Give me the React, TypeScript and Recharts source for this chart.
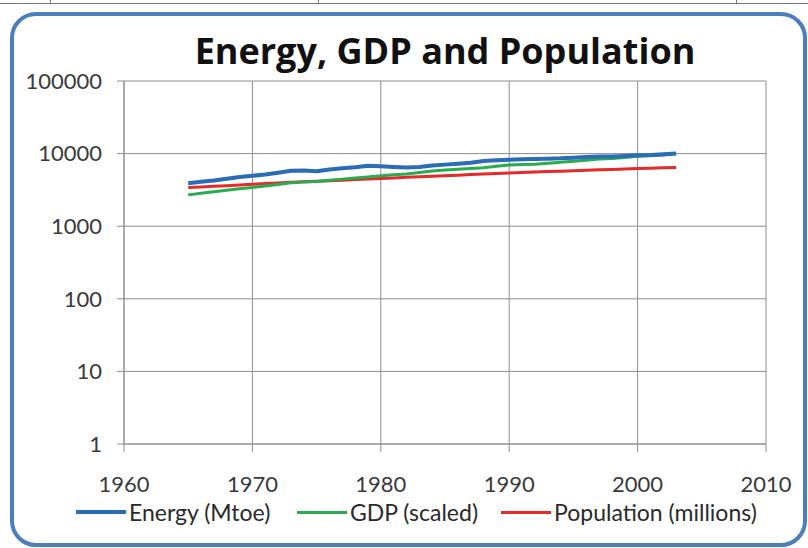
// Energy, GDP and Population chart (log scale)

import { LineChart, Line, XAxis, YAxis, CartesianGrid } from 'recharts';

const years = [
  1965, 1966, 1967, 1968, 1969, 1970, 1971, 1972, 1973, 1974,
  1975, 1976, 1977, 1978, 1979, 1980, 1981, 1982, 1983, 1984,
  1985, 1986, 1987, 1988, 1989, 1990, 1991, 1992, 1993, 1994,
  1995, 1996, 1997, 1998, 1999, 2000, 2001, 2002, 2003,
];

const energy = [
  3900, 4100, 4250, 4500, 4750, 4950, 5150, 5450, 5800, 5850,
  5700, 6050, 6300, 6500, 6800, 6700, 6550, 6450, 6550, 6850,
  7050, 7250, 7500, 7900, 8100, 8250, 8350, 8400, 8500, 8600,
  8800, 9000, 9100, 9150, 9300, 9500, 9600, 9800, 10000,
];

const gdp = [
  2700, 2850, 2980, 3130, 3280, 3420, 3580, 3760, 3960, 4060,
  4120, 4300, 4450, 4600, 4760, 4960, 5100, 5250, 5500, 5750,
  5950, 6100, 6250, 6400, 6700, 6950, 7050, 7150, 7350, 7600,
  7850, 8100, 8400, 8550, 8850, 9200, 9350, 9600, 9950,
];

const population = [
  3400, 3470, 3540, 3620, 3700, 3780, 3860, 3940, 4020, 4100,
  4170, 4240, 4310, 4390, 4470, 4550, 4630, 4720, 4800, 4880,
  4960, 5050, 5140, 5230, 5320, 5410, 5490, 5570, 5650, 5730,
  5810, 5890, 5970, 6050, 6130, 6210, 6290, 6370, 6450,
];

const xTicks = [1960, 1970, 1980, 1990, 2000, 2010];
const yTicks = [1, 10, 100, 1000, 10000, 100000];

const BLUE = '#2b6cb6';
const GREEN = '#27ad4f';
const RED = '#e52a2a';
const GRID = '#8e8e8e';
const FONT = 'Lato, "Open Sans", sans-serif';

const legendItems = [
  { name: 'Energy (Mtoe)', color: BLUE, lineLeft: 76, width: 4 },
  { name: 'GDP (scaled)', color: GREEN, lineLeft: 297, width: 3 },
  { name: 'Population (millions)', color: RED, lineLeft: 501, width: 3 },
];

export default function App() {
  const data = years.map((year, i) => ({
    year,
    energy: energy[i],
    gdp: gdp[i],
    population: population[i],
  }));

  const tickStyle = { fontSize: 22, fill: '#3a3a3a', fontFamily: FONT };

  return (
    <div style={{ position: 'absolute', left: 0, top: 0, width: 808, height: 548, background: '#fff', overflow: 'hidden', fontFamily: FONT }}>
      {/* cut-off strip from the page above */}
      <div style={{ position: 'absolute', left: 0, top: 3, width: 808, height: 1, background: '#777' }} />
      <div style={{ position: 'absolute', left: 50, top: 0, width: 1, height: 4, background: '#777' }} />
      <div style={{ position: 'absolute', left: 318, top: 0, width: 1, height: 4, background: '#777' }} />
      <div style={{ position: 'absolute', left: 736, top: 0, width: 1, height: 4, background: '#777' }} />

      {/* rounded chart frame */}
      <div
        style={{
          position: 'absolute',
          left: 10,
          top: 12,
          width: 789,
          height: 527,
          border: '4px solid #4a7ebd',
          borderRadius: 26,
        }}
      />

      <div
        style={{
          position: 'absolute',
          left: 0,
          top: 28,
          width: 890,
          textAlign: 'center',
          fontFamily: '"Open Sans", sans-serif',
          fontSize: 36,
          fontWeight: 700,
          color: '#111',
          lineHeight: '46px',
        }}
      >
        Energy, GDP and Population
      </div>

      <div style={{ position: 'absolute', left: 0, top: 0 }}>
        <LineChart width={808} height={548} data={data} margin={{ top: 81, right: 42, left: 24, bottom: 74 }}>
          <CartesianGrid stroke={GRID} strokeWidth={1} />
          <XAxis
            type="number"
            dataKey="year"
            domain={[1960, 2010]}
            ticks={xTicks}
            height={30}
            tickSize={8}
            tickMargin={24}
            tick={tickStyle}
            stroke={GRID}
            interval={0}
          />
          <YAxis
            scale="log"
            domain={[1, 100000]}
            ticks={yTicks}
            width={100}
            tickSize={7}
            tickMargin={15}
            tick={tickStyle}
            stroke={GRID}
            interval={0}
            allowDataOverflow
          />
          <Line dataKey="population" stroke={RED} strokeWidth={3} dot={false} isAnimationActive={false} />
          <Line dataKey="gdp" stroke={GREEN} strokeWidth={3} dot={false} isAnimationActive={false} />
          <Line dataKey="energy" stroke={BLUE} strokeWidth={4} dot={false} isAnimationActive={false} />
        </LineChart>
      </div>

      {/* legend */}
      {legendItems.map((item) => (
        <div key={item.name} style={{ position: 'absolute', left: item.lineLeft, top: 498, height: 28, display: 'flex', alignItems: 'center' }}>
          <div style={{ width: 50, height: item.width, background: item.color, marginRight: 3 }} />
          <span style={{ fontSize: 23, color: '#2a2a2a', whiteSpace: 'nowrap' }}>{item.name}</span>
        </div>
      ))}
    </div>
  );
}
